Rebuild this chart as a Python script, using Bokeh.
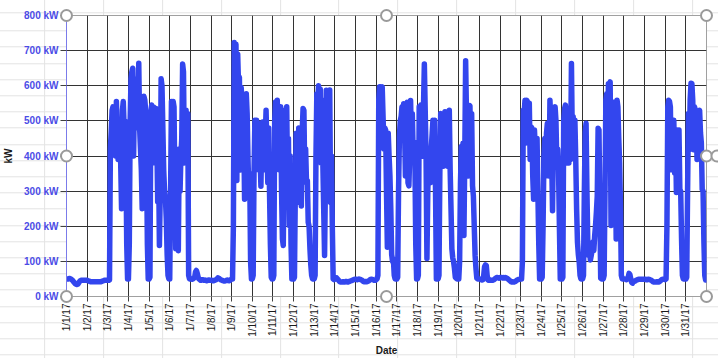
import numpy as np
from bokeh.plotting import figure
from bokeh.models import FixedTicker, Range1d
from bokeh.embed import file_html
from bokeh.resources import INLINE

# ---- data: hourly demand (kW), January 2017 ----
date_labels = ["1/1/17", "1/2/17", "1/3/17", "1/4/17", "1/5/17", "1/6/17", "1/7/17",
               "1/8/17", "1/9/17", "1/10/17", "1/11/17", "1/12/17", "1/13/17", "1/14/17",
               "1/15/17", "1/16/17", "1/17/17", "1/18/17", "1/19/17", "1/20/17", "1/21/17",
               "1/22/17", "1/23/17", "1/24/17", "1/25/17", "1/26/17", "1/27/17", "1/28/17",
               "1/29/17", "1/30/17", "1/31/17"]
y_ticks = [0, 100, 200, 300, 400, 500, 600, 700, 800]
y_labels = ["0 kW", "100 kW", "200 kW", "300 kW", "400 kW", "500 kW", "600 kW", "700 kW", "800 kW"]

d01 = [50, 50, 50, 51, 51, 50, 48, 46, 43, 40, 37, 35, 34, 35, 38, 42, 45, 46, 46, 46, 46, 46, 46, 46]
d02 = [46, 45, 44, 43, 42, 42, 42, 42, 42, 42, 42, 42, 42, 42, 42, 42, 42, 43, 44, 45, 46, 46, 46, 46]
d03 = [46, 46, 47, 420, 470, 530, 540, 450, 500, 400, 555, 470, 390, 480, 450, 380, 250, 530, 555, 480, 500, 420, 150, 50]
d04 = [50, 150, 500, 620, 640, 650, 400, 590, 480, 560, 620, 540, 664, 480, 420, 360, 250, 300, 570, 560, 530, 430, 150, 50]
d05 = [50, 55, 520, 545, 530, 540, 500, 380, 535, 450, 270, 400, 145, 300, 620, 600, 480, 360, 300, 280, 220, 120, 60, 50]
d06 = [50, 300, 555, 500, 555, 540, 300, 136, 140, 155, 130, 420, 300, 400, 450, 662, 640, 380, 400, 530, 400, 520, 60, 50]
d07 = [50, 50, 49, 50, 52, 55, 70, 74, 66, 55, 50, 48, 46, 47, 48, 47, 46, 47, 46, 45, 46, 47, 47, 46]
d08 = [46, 46, 45, 45, 46, 47, 48, 50, 53, 52, 50, 48, 47, 46, 45, 44, 44, 45, 46, 47, 46, 45, 46, 48]
d09 = [50, 50, 200, 723, 700, 718, 330, 690, 600, 624, 360, 596, 560, 446, 500, 277, 420, 577, 520, 390, 290, 350, 100, 50]
d10 = [50, 60, 350, 502, 480, 502, 420, 361, 493, 400, 314, 450, 497, 420, 361, 450, 530, 420, 324, 480, 300, 150, 55, 50]
d11 = [50, 60, 500, 554, 480, 559, 450, 361, 500, 540, 300, 164, 145, 400, 530, 480, 540, 324, 450, 202, 400, 150, 50, 50]
d12 = [50, 55, 300, 465, 400, 268, 480, 362, 420, 258, 470, 535, 530, 333, 420, 324, 330, 211, 200, 136, 90, 60, 50, 50]
d13 = [50, 60, 400, 577, 550, 600, 520, 590, 380, 559, 380, 250, 117, 324, 587, 450, 577, 500, 588, 268, 400, 200, 50, 48]
d14 = [50, 52, 53, 50, 47, 44, 42, 41, 41, 42, 42, 41, 42, 43, 42, 41, 42, 43, 44, 45, 46, 47, 48, 49]
d15 = [49, 49, 48, 49, 50, 49, 48, 47, 45, 43, 42, 42, 43, 42, 43, 44, 46, 48, 49, 49, 48, 47, 46, 46]
d16 = [48, 50, 60, 560, 597, 597, 590, 597, 512, 420, 480, 474, 300, 140, 465, 400, 343, 249, 120, 100, 107, 60, 50, 50]
d17 = [50, 55, 300, 455, 500, 512, 540, 470, 549, 480, 343, 545, 553, 324, 315, 400, 558, 440, 520, 408, 440, 400, 150, 50]
d18 = [50, 60, 540, 520, 545, 500, 399, 540, 662, 530, 400, 108, 300, 400, 350, 324, 420, 460, 502, 420, 502, 300, 50, 50]
d19 = [50, 60, 350, 521, 480, 500, 371, 450, 526, 440, 521, 371, 450, 530, 361, 250, 136, 110, 99, 80, 55, 52, 50, 50]
d20 = [50, 100, 324, 427, 400, 437, 174, 400, 671, 512, 420, 343, 540, 543, 380, 520, 315, 286, 200, 117, 80, 52, 50, 50]
d21 = [50, 49, 48, 47, 48, 60, 85, 90, 88, 60, 47, 46, 46, 47, 46, 46, 47, 48, 50, 52, 54, 54, 53, 52]
d22 = [54, 54, 54, 53, 54, 53, 54, 53, 52, 50, 48, 46, 44, 42, 41, 42, 41, 42, 43, 45, 47, 48, 49, 49]
d23 = [50, 50, 100, 530, 520, 559, 437, 559, 554, 500, 550, 390, 483, 480, 343, 277, 474, 420, 390, 450, 296, 150, 50, 50]
d24 = [50, 55, 200, 399, 450, 343, 465, 493, 420, 343, 559, 502, 400, 244, 450, 530, 540, 500, 380, 420, 361, 200, 50, 50]
d25 = [50, 55, 500, 535, 545, 520, 380, 512, 380, 450, 390, 663, 446, 512, 420, 502, 390, 250, 155, 120, 99, 60, 50, 50]
d26 = [50, 60, 300, 469, 493, 300, 155, 117, 136, 104, 117, 131, 155, 131, 173, 202, 240, 286, 479, 474, 249, 52, 50, 50]
d27 = [50, 60, 300, 559, 577, 418, 606, 602, 611, 202, 455, 350, 211, 554, 420, 164, 559, 540, 450, 380, 249, 60, 50, 50]
d28 = [50, 50, 49, 48, 50, 55, 66, 62, 50, 40, 38, 42, 43, 44, 46, 47, 48, 49, 49, 49, 49, 49, 49, 49]
d29 = [49, 49, 48, 48, 49, 49, 48, 47, 46, 44, 42, 41, 41, 41, 42, 42, 41, 42, 44, 46, 48, 49, 49, 50]
d30 = [48, 50, 200, 540, 559, 555, 540, 361, 474, 480, 502, 352, 470, 296, 474, 400, 474, 305, 300, 164, 60, 50, 50, 50]
d31 = [50, 55, 300, 521, 418, 560, 607, 606, 559, 418, 540, 531, 530, 390, 521, 522, 530, 466, 437, 305, 300, 155, 60, 47]

kw = (d01 + d02 + d03 + d04 + d05 + d06 + d07 + d08 + d09 + d10 + d11 + d12 + d13 + d14 + d15 + d16
      + d17 + d18 + d19 + d20 + d21 + d22 + d23 + d24 + d25 + d26 + d27 + d28 + d29 + d30 + d31)
t_days = np.arange(len(kw)) / 24.0  # days since 1/1/17 00:00

FONT = "Liberation Sans"
W, H = 718, 358
BL, BR, BT, BB = 64, 12, 15, 60

x_end = len(date_labels)
y_end = 800
p = figure(width=W, height=H, x_range=Range1d(0, x_end), y_range=Range1d(0, y_end),
           output_backend="svg", toolbar_location=None,
           min_border_left=BL, min_border_right=BR, min_border_top=BT, min_border_bottom=BB)
p.background_fill_color = "white"
p.border_fill_color = None
p.outline_line_color = "#a0a0a0"
# faint spreadsheet cell grid showing around the chart (page background)
p.styles = {
    "background-color": "white",
    "background-image": (
        "repeating-linear-gradient(to bottom, transparent 0px, transparent 15.2px, "
        "#e3e3e3 15.2px, #e3e3e3 16.2px), "
        "repeating-linear-gradient(to right, transparent 0px, transparent 57.9px, "
        "#e3e3e3 57.9px, #e3e3e3 58.9px)"
    ),
    "background-position": "0px 15.3px, -13.9px 0px",
}

p.line(t_days, kw, line_width=5.5, line_color="#3346EE", line_join="round", line_cap="round")

x_ticks = list(range(len(date_labels)))
p.xaxis.ticker = FixedTicker(ticks=x_ticks)
p.xaxis.major_label_overrides = {i: lab for i, lab in zip(x_ticks, date_labels)}
p.xaxis.major_label_orientation = np.pi / 2
p.xaxis.major_tick_out = 5
p.xaxis.major_tick_in = 0
p.xaxis.minor_tick_line_color = None
p.xaxis.axis_line_color = "#a0a0a0"
p.xaxis.major_tick_line_color = "#404040"
p.xaxis.major_label_standoff = 2
p.xaxis.major_label_text_font = FONT
p.xaxis.major_label_text_font_size = "10px"
p.xaxis.major_label_text_color = "#1a1a1a"
p.xaxis.axis_label = "Date"
p.xaxis.axis_label_text_font = FONT
p.xaxis.axis_label_text_font_size = "10px"
p.xaxis.axis_label_text_font_style = "bold"
p.xaxis.axis_label_text_color = "#1a1a1a"
p.xaxis.axis_label_standoff = 5

p.yaxis.ticker = FixedTicker(ticks=y_ticks)
p.yaxis.major_label_overrides = {v: lab for v, lab in zip(y_ticks, y_labels)}
p.yaxis.major_tick_out = 6
p.yaxis.major_tick_in = 0
p.yaxis.minor_tick_line_color = None
p.yaxis.axis_line_color = "#7b7bea"
p.yaxis.major_tick_line_color = "#404040"
p.yaxis.major_label_standoff = 2
p.yaxis.major_label_text_font = FONT
p.yaxis.major_label_text_font_size = "10px"
p.yaxis.major_label_text_font_style = "bold"
p.yaxis.major_label_text_color = "#4b4be6"
p.yaxis.axis_label = "kW"
p.yaxis.axis_label_text_font = FONT
p.yaxis.axis_label_text_font_size = "10px"
p.yaxis.axis_label_text_font_style = "bold"
p.yaxis.axis_label_text_color = "#1a1a1a"
p.yaxis.axis_label_standoff = 7

p.xgrid.ticker = FixedTicker(ticks=x_ticks)
p.ygrid.ticker = FixedTicker(ticks=y_ticks)
p.xgrid.grid_line_color = "#333333"
p.ygrid.grid_line_color = "#333333"
p.xgrid.grid_line_width = 1
p.ygrid.grid_line_width = 1

# selection handles of the plot area (Excel-style rings at corners and mid-edges)
hx_list, hy_list = [], []
for hx in (0, x_end / 2, x_end):
    for hy in (0, y_end / 2, y_end):
        if hx == x_end / 2 and hy == y_end / 2:
            continue
        hx_list.append(hx)
        hy_list.append(hy)
# chart-area handle just right of the plot area, cut by the window edge
frame_w = W - BL - BR
hx_list.append(x_end + 10.5 * x_end / frame_w)
hy_list.append(y_end / 2)
p.scatter(hx_list, hy_list, marker="circle", size=11, fill_color="white",
          line_color="#9a9a9a", line_width=2, level="overlay")

open("out.html", "w").write(file_html(p, INLINE))
